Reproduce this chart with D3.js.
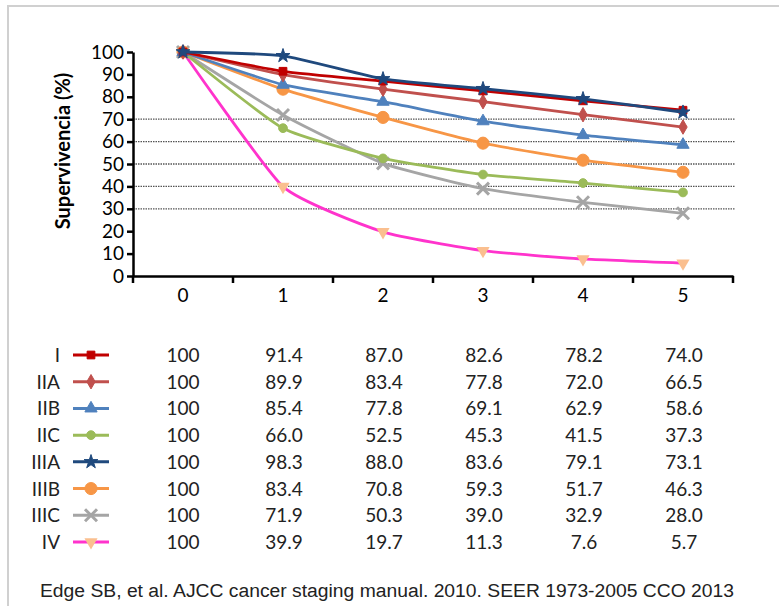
<!DOCTYPE html>
<html><head><meta charset="utf-8">
<script src="https://cdn.jsdelivr.net/npm/d3@7"></script>
<style>body{margin:0;background:#fff;}svg{display:block;}</style>
</head><body>
<svg id="c" width="779" height="606"></svg>
<script>
const years = ["0","1","2","3","4","5"];
const yTicks = [0,10,20,30,40,50,60,70,80,90,100];
const gridVals = [30,40,50,60,70];
const stages = ["I","IIA","IIB","IIC","IIIA","IIIB","IIIC","IV"];
const vI    = [100,91.4,87.0,82.6,78.2,74.0];
const vIIA  = [100,89.9,83.4,77.8,72.0,66.5];
const vIIB  = [100,85.4,77.8,69.1,62.9,58.6];
const vIIC  = [100,66.0,52.5,45.3,41.5,37.3];
const vIIIA = [100,98.3,88.0,83.6,79.1,73.1];
const vIIIB = [100,83.4,70.8,59.3,51.7,46.3];
const vIIIC = [100,71.9,50.3,39.0,32.9,28.0];
const vIV   = [100,39.9,19.7,11.3,7.6,5.7];
const yLabel = "Supervivencia (%)";
const source = "Edge SB, et al. AJCC cancer staging manual. 2010. SEER 1973-2005 CCO 2013";

const seriesValues = [vI,vIIA,vIIB,vIIC,vIIIA,vIIIB,vIIIC,vIV];
const styles = [
  {color:"#C00000", sym:"square", fill:"#C00000", size:60},
  {color:"#C0504D", sym:"diamond", fill:"#C0504D", size:60},
  {color:"#4F81BD", sym:"triangle", fill:"#4F81BD", size:65},
  {color:"#9BBB59", sym:"circle", fill:"#9BBB59", size:60},
  {color:"#1F497D", sym:"star", fill:"#1F497D", size:60},
  {color:"#F79646", sym:"circle", fill:"#F79646", size:115},
  {color:"#A5A5A5", sym:"x", fill:"none", size:90},
  {color:"#FF33CC", sym:"tridown", fill:"#FABF8F", size:75}
];
const series = stages.map((s,i)=>({name:s, values:seriesValues[i], ...styles[i]}));

const svg = d3.select("#c");
const font = "Lato, 'Open Sans', sans-serif";

// frame
svg.append("rect").attr("x",8).attr("y",6).attr("width",800).attr("height",640)
  .attr("fill","none").attr("stroke","#d0d0d0").attr("stroke-width",2);

const x = d3.scaleBand().domain(years).range([133,733]);
const y = d3.scaleLinear().domain([0,100]).range([276,52]);
const cx = d => x(d) + x.bandwidth()/2;

// gridlines
svg.append("g").selectAll("line").data(gridVals).join("line")
  .attr("x1",133).attr("x2",735).attr("y1",d=>y(d)).attr("y2",d=>y(d))
  .attr("stroke","#555").attr("stroke-width",1.3).attr("stroke-dasharray","1.5,1");

// y axis
const yAx = svg.append("g").attr("transform","translate(133,0)")
  .call(d3.axisLeft(y).tickValues(yTicks).tickSize(6).tickSizeOuter(0).tickPadding(3));
yAx.select(".domain").attr("stroke","#000").attr("stroke-width",2.5);
yAx.selectAll(".tick line").attr("stroke","#000").attr("stroke-width",2.5);
yAx.selectAll("text").attr("font-family",font).attr("font-size",19).attr("fill","#000");

// x axis
const xAx = svg.append("g").attr("transform","translate(0,276)")
  .call(d3.axisBottom(x).tickSize(0).tickSizeOuter(0).tickPadding(13));
xAx.select(".domain").attr("stroke","#000").attr("stroke-width",2.5);
xAx.selectAll("text").attr("font-family",font).attr("font-size",19).attr("fill","#000");
// band-edge ticks
svg.append("g").selectAll("line").data(years.concat(["end"])).join("line")
  .attr("x1",(d,i)=> i<years.length ? x(d) : x(years[years.length-1])+x.bandwidth())
  .attr("x2",(d,i)=> i<years.length ? x(d) : x(years[years.length-1])+x.bandwidth())
  .attr("y1",276).attr("y2",283).attr("stroke","#000").attr("stroke-width",2.5);

// y label
svg.append("text").attr("transform","translate(70,151) rotate(-90)")
  .attr("text-anchor","middle").attr("font-family",font).attr("font-weight","bold")
  .attr("font-size",20).text(yLabel);

function symPath(sym,size){
  const map = {square:d3.symbolSquare, diamond:d3.symbolDiamond, triangle:d3.symbolTriangle,
    circle:d3.symbolCircle, star:d3.symbolStar};
  if(sym==="tridown") return d3.symbol(d3.symbolTriangle,size)();
  return d3.symbol(map[sym],size)();
}
function symTransform(s,px,py){
  if(s.sym==="tridown") return `translate(${px},${py}) rotate(180)`;
  return `translate(${px},${py})`;
}
function drawMarker(g,s,px,py){
  if(s.sym==="x"){
    g.append("path").attr("d",`M-6,-6L6,6M-6,6L6,-6`).attr("transform",`translate(${px},${py})`)
     .attr("stroke",s.color).attr("stroke-width",3).attr("fill","none");
  } else {
    g.append("path").attr("d",symPath(s.sym,s.size)).attr("transform",symTransform(s,px,py))
     .attr("fill",s.fill).attr("stroke",s.sym==="tridown"?"none":s.color).attr("stroke-width",1);
  }
}

const line = d3.line().x((d,i)=>cx(years[i])).y(d=>y(d)).curve(d3.curveCardinal.tension(0.5));
const order = [7,6,3,5,2,1,0,4];
order.forEach(i=>{
  const s = series[i];
  const g = svg.append("g");
  g.append("path").attr("d",line(s.values)).attr("fill","none")
    .attr("stroke",s.color).attr("stroke-width",2.8);
  s.values.forEach((v,j)=>drawMarker(g,s,cx(years[j]),y(v)));
});

// table
const rowY = d3.scalePoint().domain(stages).range([362,549]);
series.forEach(s=>{
  const ry = rowY(s.name);
  svg.append("text").attr("x",60).attr("y",ry).attr("text-anchor","end")
    .attr("font-family",font).attr("font-size",19).attr("fill","#222").text(s.name);
  const g = svg.append("g");
  g.append("line").attr("x1",73).attr("x2",109).attr("y1",ry-7).attr("y2",ry-7)
    .attr("stroke",s.color).attr("stroke-width",3);
  drawMarker(g,s,91,ry-7);
  s.values.forEach((v,j)=>{
    svg.append("text").attr("x",cx(years[j])+(j>0?1:0)).attr("y",ry).attr("text-anchor","middle")
      .attr("font-family",font).attr("font-size",19).attr("fill","#222")
      .text(j===0 ? String(v) : v.toFixed(1));
  });
});

// source
svg.append("text").attr("x",40).attr("y",597).attr("font-family","'Liberation Sans', Arial, sans-serif")
  .attr("font-size",18).attr("fill","#222").attr("textLength",694).attr("lengthAdjust","spacingAndGlyphs")
  .text(source);
</script>
</body></html>
